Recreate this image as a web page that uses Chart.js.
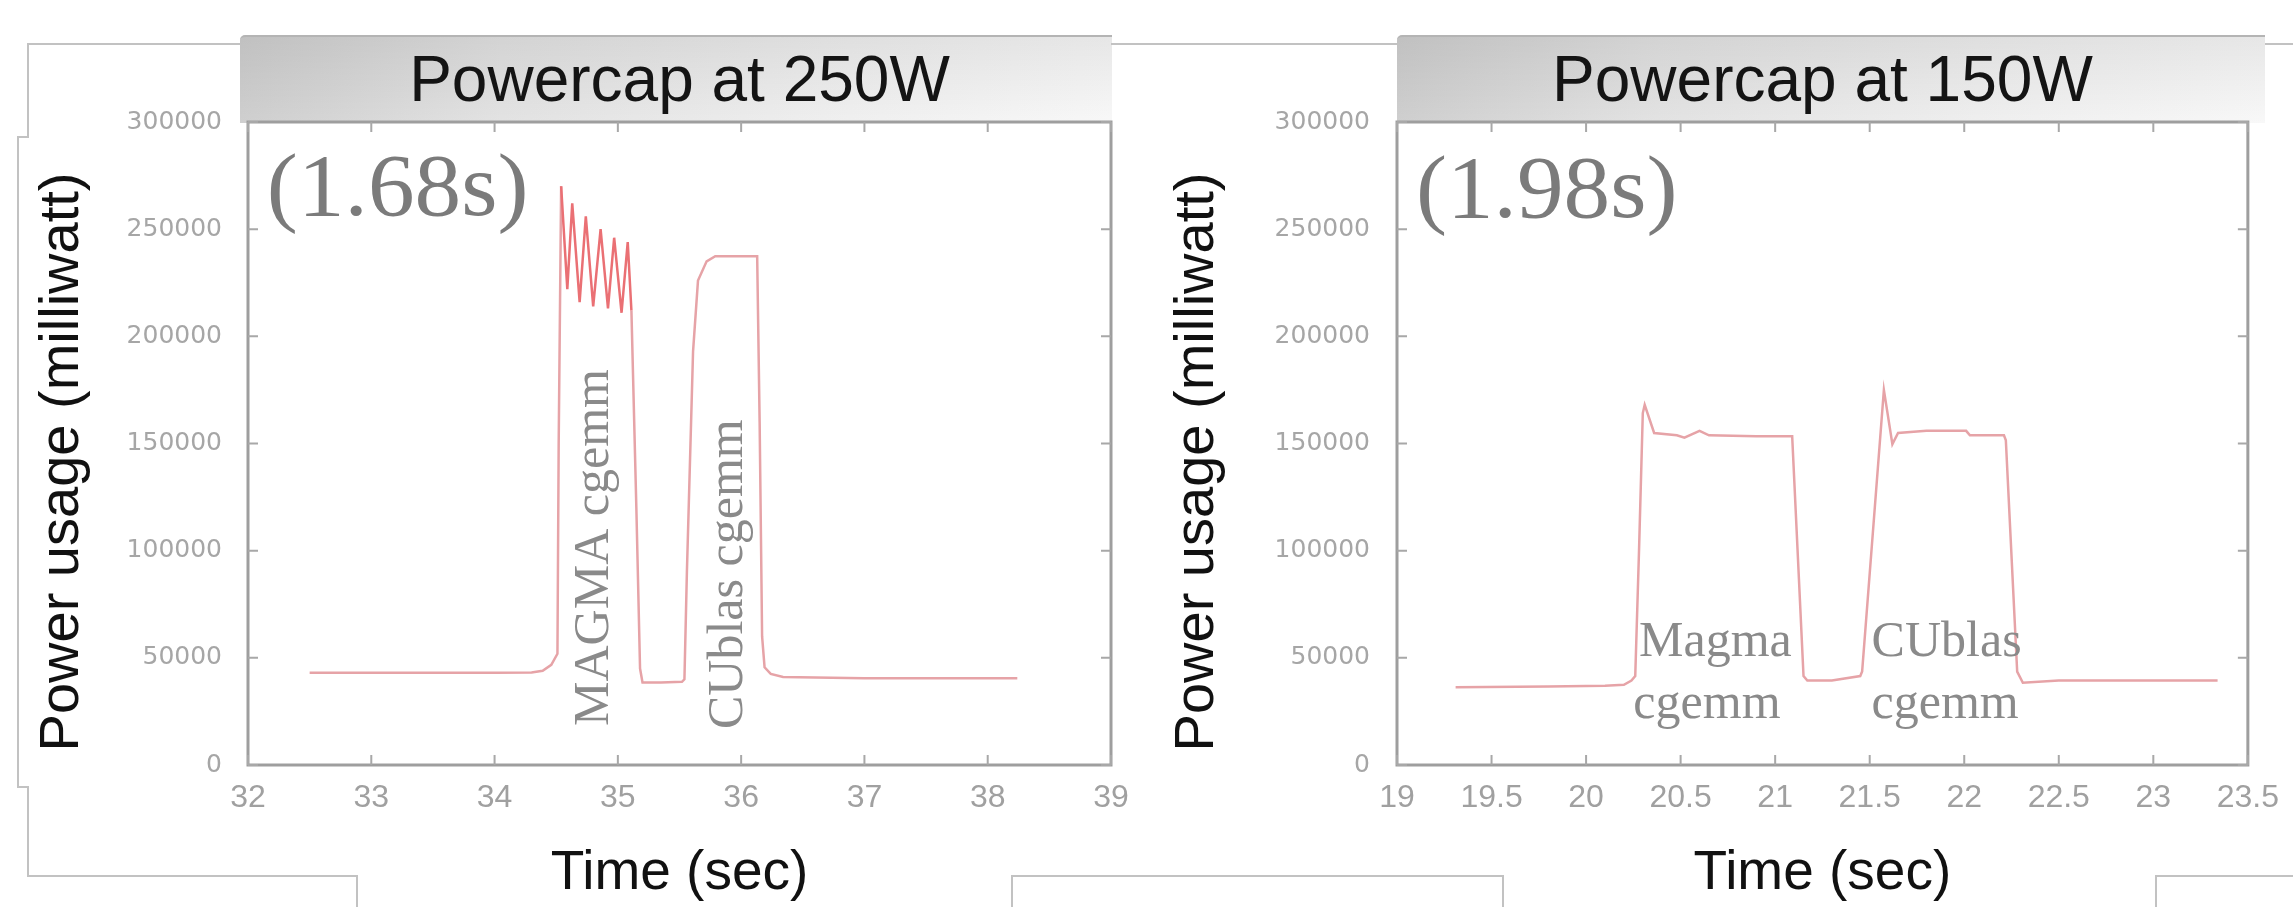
<!DOCTYPE html>
<html><head><meta charset="utf-8">
<script src="https://cdn.jsdelivr.net/npm/chart.js@4.4.1/dist/chart.umd.min.js"></script>
<style>
html,body{margin:0;padding:0;background:#fff;}
body{width:2293px;height:907px;position:relative;overflow:hidden;}
.ln{position:absolute;background:#c2c2c2;}
.banner{position:absolute;top:35px;height:86px;
  background:linear-gradient(180deg,rgba(0,0,0,0.07) 0%,rgba(0,0,0,0.0) 100%),
             linear-gradient(90deg,#cfcfcf 0%,#e3e3e3 30%,#f0f0f0 70%,#f8f8f8 100%);
  border-top:2px solid #b4b4b4;border-top-left-radius:5px;}
canvas{position:absolute;top:0;}
</style></head><body>
<div class="banner" style="left:240px;width:872px"></div>
<div class="banner" style="left:1397px;width:868px"></div>

<div class="ln" style="left:27px;top:43px;width:213px;height:2px"></div>
<div class="ln" style="left:1111px;top:43px;width:286px;height:2px"></div>
<div class="ln" style="left:2265px;top:43px;width:28px;height:2px"></div>
<div class="ln" style="left:27px;top:43px;width:2px;height:94px"></div>
<div class="ln" style="left:17px;top:136px;width:12px;height:2px"></div>
<div class="ln" style="left:17px;top:136px;width:2px;height:652px"></div>
<div class="ln" style="left:17px;top:786px;width:12px;height:2px"></div>
<div class="ln" style="left:27px;top:786px;width:2px;height:91px"></div>
<div class="ln" style="left:27px;top:875px;width:331px;height:2px"></div>
<div class="ln" style="left:356px;top:875px;width:2px;height:32px"></div>
<div class="ln" style="left:1011px;top:875px;width:493px;height:2px"></div>
<div class="ln" style="left:1011px;top:875px;width:2px;height:32px"></div>
<div class="ln" style="left:1502px;top:875px;width:2px;height:32px"></div>
<div class="ln" style="left:2155px;top:875px;width:138px;height:2px"></div>
<div class="ln" style="left:2155px;top:875px;width:2px;height:32px"></div>

<canvas id="c1" width="1150" height="907" style="left:0px"></canvas>
<canvas id="c2" width="1143" height="907" style="left:1150px"></canvas>

<script>
// ---------- DATA ----------
const t250 = [32.50, 33.00, 33.50, 34.00, 34.30, 34.39, 34.46, 34.51, 34.52, 34.54,
              34.59, 34.63, 34.69, 34.74, 34.80, 34.86, 34.92, 34.97, 35.03, 35.08,
              35.11, 35.15, 35.18, 35.20, 35.35, 35.52, 35.54, 35.56, 35.61, 35.65,
              35.72, 35.79, 36.00, 36.13, 36.15, 36.17, 36.19, 36.24, 36.34, 37.00,
              37.50, 38.00, 38.24];
const p250 = [43000, 43000, 43000, 43000, 43200, 44000, 46700, 51900, 150000, 270000,
              222000, 262000, 216000, 256000, 214000, 250000, 213000, 246000, 211000, 244000,
              212000, 120000, 45000, 38500, 38500, 38800, 40000, 90000, 193000, 226000,
              235000, 237400, 237400, 237400, 160000, 60000, 45600, 42500, 41100, 40500,
              40500, 40500, 40500];

const t150 = [19.31, 19.80, 20.10, 20.20, 20.24, 20.26, 20.28, 20.30, 20.31, 20.36,
              20.48, 20.52, 20.60, 20.65, 20.90, 21.09, 21.15, 21.17, 21.30, 21.45,
              21.46, 21.575, 21.62, 21.65, 21.80, 22.01, 22.03, 22.21, 22.22, 22.28,
              22.31, 22.50, 23.00, 23.34];
const p150 = [36300, 36600, 37000, 37400, 39400, 41500, 100000, 164200, 168000, 154900,
              153800, 152700, 155900, 153800, 153400, 153400, 41500, 39400, 39400, 41500,
              43600, 175000, 149700, 154900, 155900, 155900, 153800, 153800, 151500, 43600,
              38400, 39400, 39400, 39400];

const yTicks = [0, 50000, 100000, 150000, 200000, 250000, 300000];
const xTicks250 = [32, 33, 34, 35, 36, 37, 38, 39];
const xTicks150 = [19, 19.5, 20, 20.5, 21, 21.5, 22, 22.5, 23, 23.5];

const title250 = 'Powercap at 250W';
const title150 = 'Powercap at 150W';
const yLabel = 'Power usage (milliwatt)';
const xLabel = 'Time (sec)';
const time250 = '(1.68s)';
const time150 = '(1.98s)';
const magma250 = 'MAGMA cgemm';
const cublas250 = 'CUblas cgemm';
const magma150 = ['Magma', 'cgemm'];
const cublas150 = ['CUblas', 'cgemm'];

// ---------- PLUGINS ----------
const framePlugin = {
  id: 'frame',
  beforeDatasetsDraw(chart) {
    const {ctx, chartArea: a, scales: {x, y}} = chart;
    ctx.save();
    ctx.strokeStyle = '#9e9e9e';
    ctx.lineWidth = 3;
    ctx.strokeRect(a.left, a.top, a.right - a.left, a.bottom - a.top);
    ctx.lineWidth = 2;
    ctx.strokeStyle = '#a8a8a8';
    ctx.beginPath();
    y.ticks.forEach(t => {
      const py = y.getPixelForValue(t.value);
      ctx.moveTo(a.left, py); ctx.lineTo(a.left + 10, py);
      ctx.moveTo(a.right, py); ctx.lineTo(a.right - 10, py);
    });
    x.ticks.forEach(t => {
      const px = x.getPixelForValue(t.value);
      ctx.moveTo(px, a.bottom); ctx.lineTo(px, a.bottom - 10);
      ctx.moveTo(px, a.top); ctx.lineTo(px, a.top + 10);
    });
    ctx.stroke();
    ctx.restore();
  }
};

const notesPlugin = {
  id: 'notes',
  afterDatasetsDraw(chart, args, opts) {
    const {ctx, scales: {x, y}} = chart;
    (opts.items || []).forEach(n => {
      const px = x.getPixelForValue(n.x);
      const py = y.getPixelForValue(n.y);
      ctx.save();
      ctx.translate(px, py);
      if (n.rotate) ctx.rotate(-Math.PI / 2);
      if (n.stretch) ctx.scale(n.stretch, 1);
      ctx.font = n.size + 'px "Liberation Serif", "Times New Roman", serif';
      ctx.fillStyle = n.color;
      ctx.textAlign = 'left';
      ctx.textBaseline = 'alphabetic';
      ctx.fillText(n.text, 0, 0);
      ctx.restore();
    });
  }
};

const yTitlePlugin = {
  id: 'ytitle',
  afterDraw(chart, args, opts) {
    const {ctx} = chart;
    ctx.save();
    ctx.translate(opts.x, opts.y);
    ctx.rotate(-Math.PI / 2);
    ctx.font = opts.size + 'px "Liberation Sans", Arial, sans-serif';
    ctx.fillStyle = '#111';
    ctx.textAlign = 'center';
    ctx.textBaseline = 'alphabetic';
    ctx.fillText(opts.text, 0, 0);
    ctx.restore();
  }
};

function makeChart(id, opt) {
  const pts = opt.t.map((v, i) => ({x: v, y: opt.p[i]}));
  return new Chart(document.getElementById(id), {
    type: 'line',
    data: {
      datasets: [{
        data: pts,
        borderColor: 'rgb(230,163,167)',
        borderWidth: 2.5,
        pointRadius: 0,
        tension: 0,
        fill: false,
        segment: opt.segment || {}
      }]
    },
    options: {
      responsive: false,
      animation: false,
      devicePixelRatio: 1,
      layout: {padding: {left: 0, right: opt.padRight, top: 0, bottom: 0}},
      plugins: {
        legend: {display: false},
        tooltip: {enabled: false},
        title: {
          display: true, text: opt.title, fullSize: false,
          color: '#141414',
          font: {family: '"Liberation Sans", Arial, sans-serif', size: 64, weight: 'normal', lineHeight: 1.2},
          padding: {top: 45, bottom: 0.2}
        },
        notes: {items: opt.notes},
        ytitle: {text: yLabel, x: opt.yTitleX, y: 462, size: 56}
      },
      scales: {
        x: {
          type: 'linear', position: 'bottom',
          min: opt.xTicks[0], max: opt.xTicks[opt.xTicks.length - 1],
          afterBuildTicks: s => { s.ticks = opt.xTicks.map(v => ({value: v})); },
          afterFit: s => { s.height = 142; },
          grid: {display: false, drawTicks: false},
          border: {display: false},
          ticks: {
            callback: v => String(v), color: '#a0a0a0', padding: 14,
            maxRotation: 0, autoSkip: false,
            font: {family: '"Liberation Sans", Arial, sans-serif', size: 32}
          },
          title: {
            display: true, text: xLabel, color: '#111',
            font: {family: '"Liberation Sans", Arial, sans-serif', size: 55, lineHeight: 1.2},
            padding: {top: 0, bottom: 0}
          }
        },
        y: {
          type: 'linear', position: 'left',
          min: 0, max: 300000,
          afterBuildTicks: s => { s.ticks = yTicks.map(v => ({value: v})); },
          afterFit: s => { s.width = opt.yWidth; },
          grid: {display: false, drawTicks: false},
          border: {display: false},
          ticks: {
            callback: v => String(v), color: '#a6a6a6', padding: opt.yPad,
            font: {family: '"DejaVu Sans", sans-serif', size: 25}
          }
        }
      }
    },
    plugins: [framePlugin, notesPlugin, yTitlePlugin]
  });
}

makeChart('c1', {
  t: t250, p: p250, xTicks: xTicks250, title: title250,
  padRight: 39, yWidth: 248, yPad: 26, yTitleX: 78,
  segment: {
    borderColor: c => (c.p0.parsed.x >= 34.52 && c.p1.parsed.x <= 35.12 &&
                       c.p0.parsed.y > 200000 && c.p1.parsed.y > 200000) ? 'rgb(234,112,116)' : undefined
  },
  notes: [
    {text: time250, x: 32.153, y: 256700, size: 88, stretch: 1.06, color: '#7b7b7b'},
    {text: magma250, x: 34.92, y: 18200, size: 50, rotate: true, color: '#8a8a8a'},
    {text: cublas250, x: 36.01, y: 16800, size: 50, rotate: true, color: '#8a8a8a'}
  ]
});

makeChart('c2', {
  t: t150, p: p150, xTicks: xTicks150, title: title150,
  padRight: 35.5, yWidth: 247, yPad: 27, yTitleX: 63,
  notes: [
    {text: time150, x: 19.10, y: 255800, size: 88, stretch: 1.06, color: '#7b7b7b'},
    {text: magma150[0], x: 20.28, y: 50900, size: 50, color: '#8a8a8a'},
    {text: magma150[1], x: 20.25, y: 21900, size: 50, color: '#8a8a8a'},
    {text: cublas150[0], x: 21.51, y: 50900, size: 50, color: '#8a8a8a'},
    {text: cublas150[1], x: 21.51, y: 21900, size: 50, color: '#8a8a8a'}
  ]
});
</script>
</body></html>
